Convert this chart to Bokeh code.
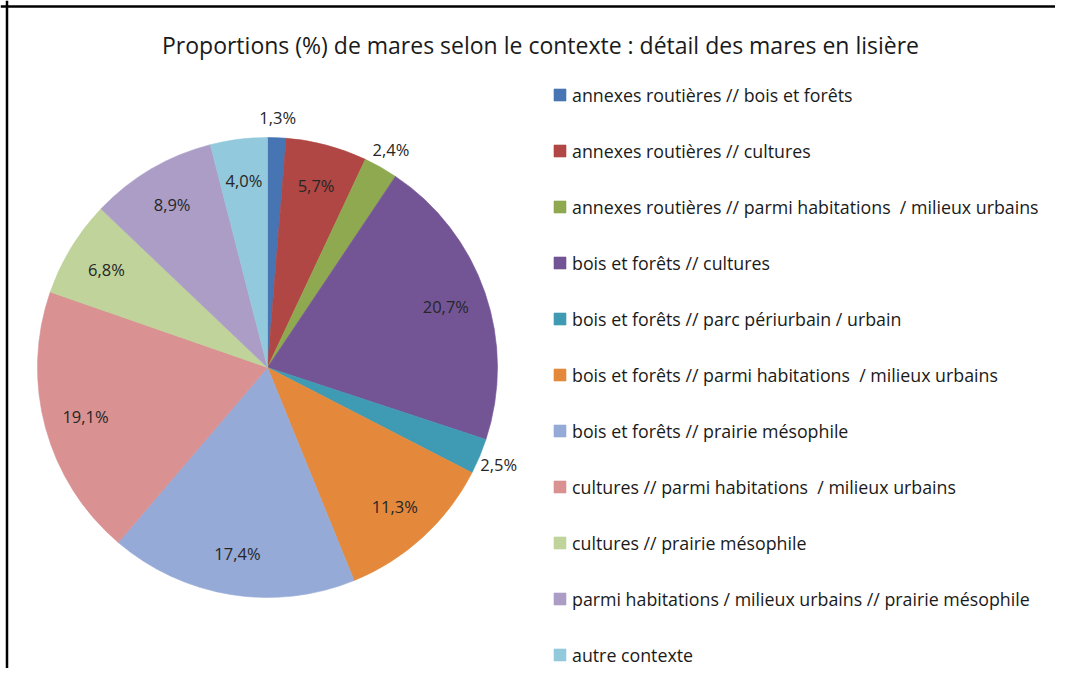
import math
from bokeh.plotting import figure
from bokeh.models import (ColumnDataSource, Range1d, Legend, LegendItem, Label, Span)
from bokeh.embed import file_html
from bokeh.resources import INLINE

# ---- data ----
categories = [
    "annexes routières // bois et forêts",
    "annexes routières // cultures",
    "annexes routières // parmi habitations  / milieux urbains",
    "bois et forêts // cultures",
    "bois et forêts // parc périurbain / urbain",
    "bois et forêts // parmi habitations  / milieux urbains",
    "bois et forêts // prairie mésophile",
    "cultures // parmi habitations  / milieux urbains",
    "cultures // prairie mésophile",
    "parmi habitations / milieux urbains // prairie mésophile",
    "autre contexte",
]
values = [1.3, 5.7, 2.4, 20.7, 2.5, 11.3, 17.4, 19.1, 6.8, 8.9, 4.0]
colors = ["#4775B4", "#B04744", "#8FA951", "#735596", "#3F9BB3", "#E4893B",
          "#96AAD7", "#D99192", "#BFD39A", "#AB9DC6", "#93C9DC"]
title_text = "Proportions (%) de mares selon le contexte : détail des mares en lisière"

# ---- layout (pixel-like data units) ----
W, H = 1055, 668
CX, CY, R = 267, 301, 230
FONT = "Open Sans"

total = sum(values)
starts, ends, mids = [], [], []
cum = 0.0
for v in values:
    a0 = math.pi / 2 - 2 * math.pi * (cum + v) / total
    a1 = math.pi / 2 - 2 * math.pi * cum / total
    starts.append(a0)
    ends.append(a1)
    mids.append((a0 + a1) / 2)
    cum += v

labels = [f"{v:.1f}".replace(".", ",") + "%" for v in values]
lx, ly = [], []
for v, m in zip(values, mids):
    rf = 1.09 if v < 3 else 0.82
    lx.append(CX + rf * R * math.cos(m))
    ly.append(CY + rf * R * math.sin(m))

src = ColumnDataSource(dict(cat=categories, val=values, color=colors,
                            start=starts, end=ends, lab=labels, lx=lx, ly=ly))

p = figure(width=W, height=H, output_backend="svg", toolbar_location=None,
           x_range=Range1d(0, W), y_range=Range1d(0, H), min_border=0,
           outline_line_color=None, border_fill_color="white")
p.axis.visible = False
p.grid.visible = False
p.background_fill_color = "white"

wr = p.wedge(x=CX, y=CY, radius=R, start_angle="start", end_angle="end",
             fill_color="color", line_color="color", line_width=0.6, source=src)

p.text(x="lx", y="ly", text="lab", source=src, text_align="center",
       text_baseline="middle", text_font_size="16.5px", text_color="#262626",
       text_font={"value": FONT})

# title
p.add_layout(Label(x=540, y=624, text=title_text, text_align="center",
                   text_baseline="middle", text_font_size="23px",
                   text_font=FONT, text_color="#1a1a1a"))

# chart-area frame lines (top and left, as in the cropped source)
p.add_layout(Span(location=6.5, dimension="height", line_color="black", line_width=2.5))
p.add_layout(Span(location=H - 6, dimension="width", line_color="black", line_width=2.5))

items = [LegendItem(label=c, renderers=[wr], index=i) for i, c in enumerate(categories)]
legend = Legend(items=items, location=(552, 1.5), orientation="vertical",
                glyph_width=15, glyph_height=15, label_height=24, spacing=32,
                label_standoff=5, padding=0, margin=0,
                border_line_color=None, background_fill_alpha=0,
                label_text_font=FONT, label_text_font_size="17.8px",
                label_text_color="#1a1a1a")
p.add_layout(legend)

open("out.html", "w").write(file_html(p, INLINE))
